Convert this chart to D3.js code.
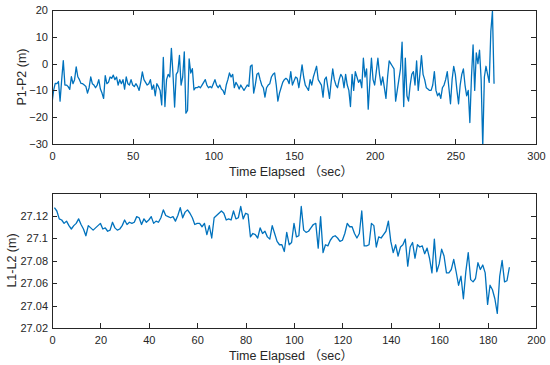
<!DOCTYPE html>
<html>
<head>
<meta charset="utf-8">
<script src="https://cdn.jsdelivr.net/npm/d3@7"></script>
<style>
  body { margin: 0; background: #fff; }
  svg text { font-family: Arial, "Liberation Sans", "Noto Sans CJK SC", sans-serif; fill: #262626; }
</style>
</head>
<body>
<div id="chart"></div>
<script>
// P1-P2, one value per second starting at t = 0
var p1p2Start = 0;
var p1p2 = [
  -14.8, -10, -7.4, -7.5, -6.7, -14, -6, 1.1, -8, -8,
  -8.6, -9.6, -4.9, -7.5, -6, -1.2, -4.9, -6, -7.4, -7.5,
  -8, -8.5, -11, -9, -5, -7.5, -8, -9, -8, -6,
  -9.5, -11, -13, -4.5, -7.5, -7, -5, -5.5, -4.3, -6,
  -5, -8, -6, -7.5, -6, -9.5, -5, -7.5, -8, -6,
  -8, -8.6, -7.5, -8.5, -10, -7, -3.1, -6, -7, -8,
  -7.5, -6, -9.6, -8, -12, -7.5, -8.6, -10, -15.4, 2.3,
  -16, -6, -4, -5, 5.7, -4, -16.2, -4, -3, 3.1,
  -8, -5, 4.4, -18.5, -17.5, 1.8, -3.5, -1.9, -9.8, -9,
  -9, -8.5, -9, -8, -7, -6, -8, -9, -8.5, -9,
  -7.5, -6, -8, -9, -8, -9.5, -10, -11.5, -8, -6,
  -3.5, -5, -4, -9, -7, -8, -9.5, -8, -9, -10,
  -9, -8, -8.5, -1, -0.5, -11, -8, -4, -3.5, -6,
  -8, -9, -12.5, -9, -8, -7.5, -5, -4, -3.5, -8,
  -14, -11, -9, -7, -6, -5.5, -6, -7.5, -3, -8,
  -6.5, -5, -5.5, -9, -5, -0.5, -5, -8, -9, -10,
  -6, -8, -5, -3, -1, -6, -7, -8, -12.5, -6,
  -5, -9, -13, -7, -2, -6, -8, -9, -6, -4,
  -5, -9, -4, -8, -10, -16, -4, -10, -3, -5,
  -7, -6, -9, 2, -5, -2, -17, -7, 2, -6,
  -8, -3, 2, -4, -8, -5, -9, -13, -5, 1,
  0, -1, -2, -14, -10, -6, -2, 8, -16, 2,
  -12, -14, -8, -4, -3, -8, 1, -10, -4, 3,
  -4, -6, -9, -9.5, -10, -10, -8, -3, -10, -12,
  -11, -13, -9, -8, -6, -3, -9, -15, -6, -1,
  -4, -10, -15, -8, -4, -2, -8, -12, -10, -22,
  -5, 7, -10, 4, 0, 5, -6, -31, -5, -1,
  -4, -7, 12, 19.5, -7.5
];

// L1-L2, one value per second starting at t = 1
var l1l2Start = 1;
var l1l2 = [
  27.127, 27.124, 27.117, 27.116, 27.113, 27.115, 27.111, 27.108, 27.111, 27.113,
  27.117, 27.112, 27.108, 27.102, 27.111, 27.109, 27.107, 27.109, 27.111, 27.113,
  27.108, 27.109, 27.106, 27.107, 27.114, 27.109, 27.107, 27.108, 27.111, 27.116,
  27.112, 27.114, 27.113, 27.114, 27.119, 27.118, 27.112, 27.117, 27.114, 27.116,
  27.119, 27.113, 27.115, 27.114, 27.118, 27.125, 27.120, 27.119, 27.118, 27.119,
  27.115, 27.120, 27.127, 27.118, 27.123, 27.125, 27.122, 27.118, 27.112, 27.113,
  27.113, 27.110, 27.113, 27.103, 27.111, 27.100, 27.118, 27.120, 27.122, 27.124,
  27.122, 27.116, 27.117, 27.116, 27.124, 27.117, 27.118, 27.128, 27.117, 27.122,
  27.121, 27.101, 27.104, 27.103, 27.100, 27.109, 27.104, 27.106, 27.101, 27.099,
  27.111, 27.104, 27.097, 27.094, 27.094, 27.088, 27.105, 27.094, 27.096, 27.113,
  27.101, 27.102, 27.128, 27.107, 27.105, 27.106, 27.109, 27.112, 27.113, 27.091,
  27.119, 27.087, 27.094, 27.093, 27.098, 27.101, 27.102, 27.100, 27.097, 27.098,
  27.104, 27.113, 27.110, 27.110, 27.104, 27.100, 27.104, 27.124, 27.093, 27.093,
  27.094, 27.113, 27.111, 27.092, 27.101, 27.100, 27.103, 27.106, 27.115, 27.097,
  27.087, 27.094, 27.084, 27.092, 27.094, 27.099, 27.075, 27.092, 27.096, 27.082,
  27.094, 27.092, 27.093, 27.086, 27.091, 27.082, 27.069, 27.099, 27.070, 27.077,
  27.090, 27.084, 27.069, 27.069, 27.072, 27.081, 27.070, 27.058, 27.066, 27.046,
  27.070, 27.087, 27.063, 27.061, 27.064, 27.078, 27.072, 27.076, 27.069, 27.041,
  27.058, 27.054, 27.046, 27.033, 27.066, 27.080, 27.061, 27.062, 27.074
];

var topXTicks = [0, 50, 100, 150, 200, 250, 300];
var topYTicks = [-30, -20, -10, 0, 10, 20];
var botXTicks = [0, 20, 40, 60, 80, 100, 120, 140, 160, 180, 200];
var botYTicks = [27.02, 27.04, 27.06, 27.08, 27.1, 27.12];

var width = 550, height = 365;
var lineColor = '#0072bd', axisColor = '#262626';

var svg = d3.select('#chart')
  .append('svg')
  .attr('width', width)
  .attr('height', height);

function drawPanel(opt) {
  var w = opt.x1 - opt.x0, h = opt.y1 - opt.y0;
  var g = svg.append('g')
    .attr('transform', 'translate(' + opt.x0 + ',' + opt.y0 + ')');

  var x = d3.scaleLinear().domain(opt.xDomain).range([0, w]);
  var y = d3.scaleLinear().domain(opt.yDomain).range([h, 0]);

  g.append('clipPath')
    .attr('id', opt.id + '-clip')
    .append('rect')
    .attr('width', w)
    .attr('height', h);

  g.append('path')
    .datum(opt.values)
    .attr('clip-path', 'url(#' + opt.id + '-clip)')
    .attr('fill', 'none')
    .attr('stroke', lineColor)
    .attr('stroke-width', 1.3)
    .attr('stroke-linejoin', 'round')
    .attr('d', d3.line()
      .x(function (d, i) { return x(i + opt.start); })
      .y(function (d) { return y(d); }));

  // axes with ticks pointing inward, labels on bottom and left only
  function styleAxis(sel) {
    sel.select('.domain').remove();
    sel.selectAll('line').attr('stroke', axisColor).attr('shape-rendering', 'crispEdges');
    sel.selectAll('text').attr('fill', axisColor).style('font-size', '11px');
  }

  g.append('g')
    .attr('transform', 'translate(0,' + h + ')')
    .call(d3.axisBottom(x).tickValues(opt.xTicks).tickSizeInner(-5).tickSizeOuter(0).tickPadding(8))
    .call(styleAxis);

  g.append('g')
    .call(d3.axisTop(x).tickValues(opt.xTicks).tickSizeInner(-5).tickSizeOuter(0).tickFormat(''))
    .call(styleAxis);

  g.append('g')
    .call(d3.axisLeft(y).tickValues(opt.yTicks).tickSizeInner(-5).tickSizeOuter(0).tickPadding(4)
      .tickFormat(d3.format('~g')))
    .call(styleAxis);

  g.append('g')
    .attr('transform', 'translate(' + w + ',0)')
    .call(d3.axisRight(y).tickValues(opt.yTicks).tickSizeInner(-5).tickSizeOuter(0).tickFormat(''))
    .call(styleAxis);

  g.append('rect')
    .attr('x', 0.5)
    .attr('y', 0.5)
    .attr('width', w)
    .attr('height', h)
    .attr('fill', 'none')
    .attr('stroke', axisColor)
    .attr('stroke-width', 1)
    .attr('shape-rendering', 'crispEdges');

  // titles
  g.append('text')
    .attr('x', w / 2 - 3)
    .attr('y', h + 32)
    .attr('text-anchor', 'middle')
    .style('font-size', '12.5px')
    .text('Time Elapsed （sec）');

  g.append('text')
    .attr('transform', 'translate(' + opt.yTitleX + ',' + (h / 2) + ') rotate(-90)')
    .attr('text-anchor', 'middle')
    .style('font-size', '12.5px')
    .text(opt.yTitle);
}

drawPanel({
  id: 'p1p2', x0: 52, x1: 536, y0: 10, y1: 144,
  xDomain: [0, 300], yDomain: [-30, 20],
  xTicks: topXTicks, yTicks: topYTicks,
  values: p1p2, start: p1p2Start,
  yTitle: 'P1-P2 (m)', yTitleX: -26
});

drawPanel({
  id: 'l1l2', x0: 52, x1: 536, y0: 193, y1: 328,
  xDomain: [0, 200], yDomain: [27.02, 27.14],
  xTicks: botXTicks, yTicks: botYTicks,
  values: l1l2, start: l1l2Start,
  yTitle: 'L1-L2 (m)', yTitleX: -36
});
</script>
</body>
</html>
